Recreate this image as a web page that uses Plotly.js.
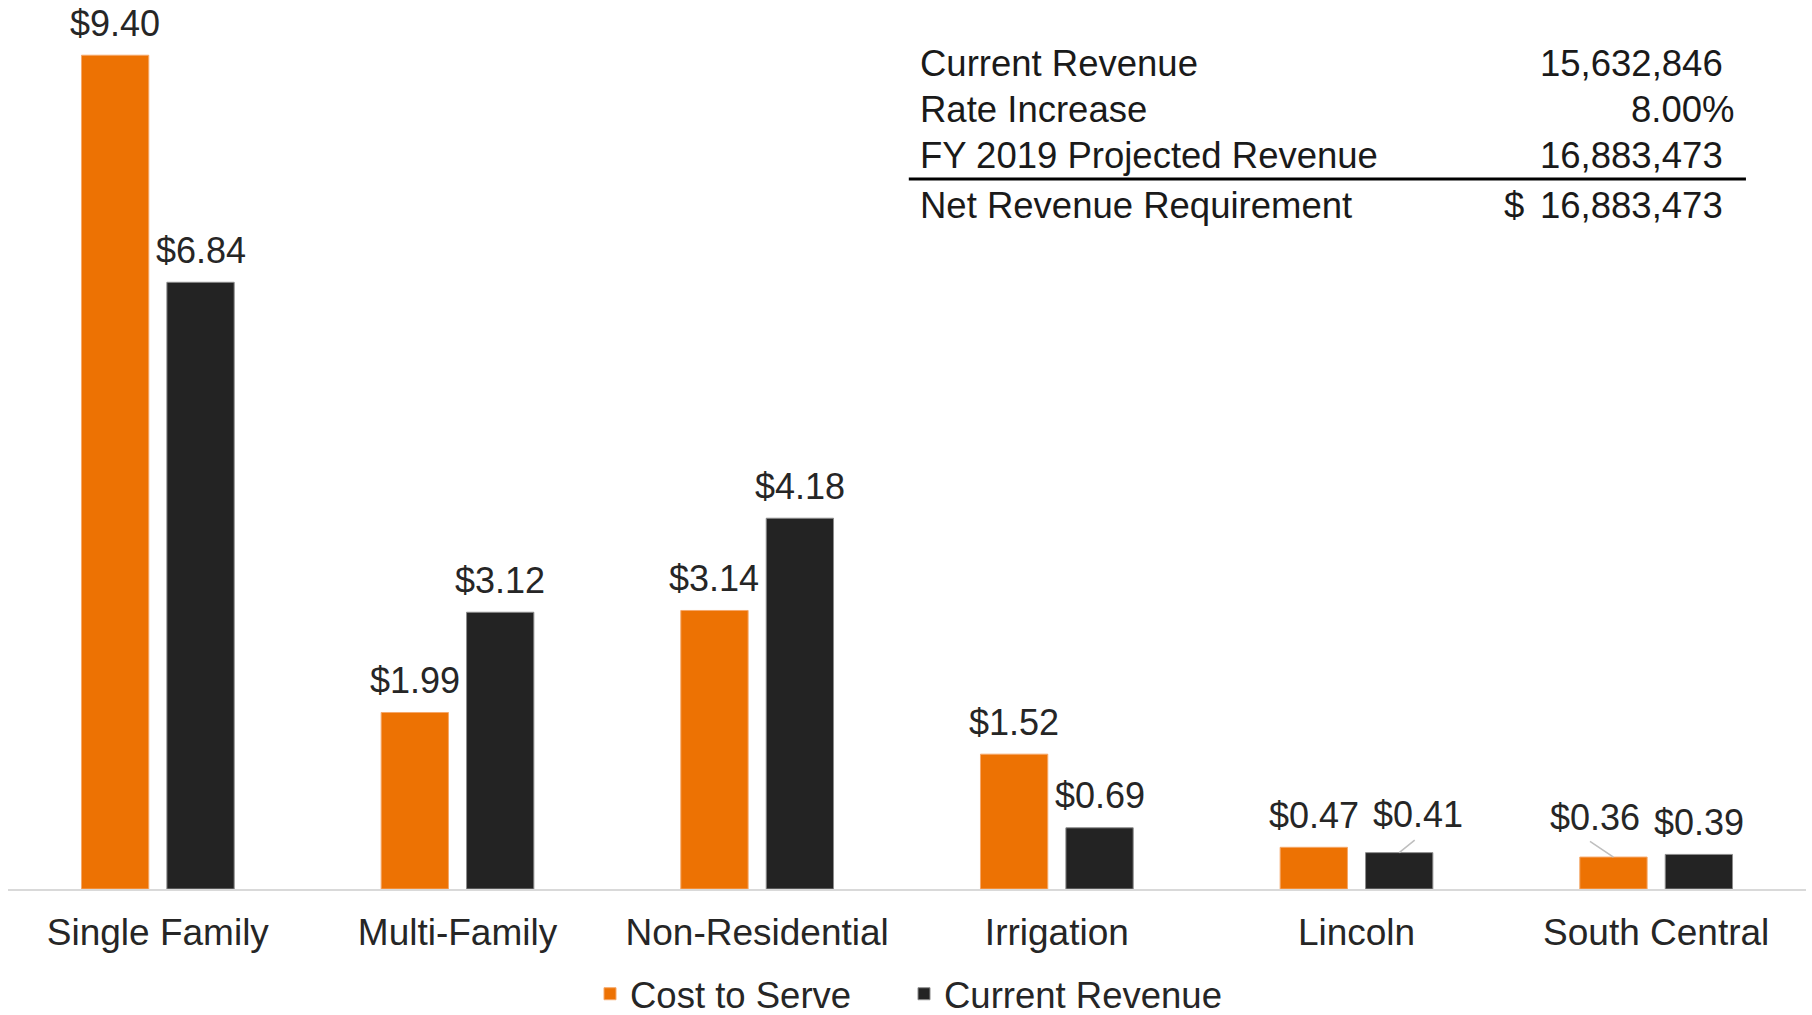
<!DOCTYPE html>
<html>
<head>
<meta charset="utf-8">
<script src="https://cdn.plot.ly/plotly-3.0.1.min.js"></script>
<style>
  html, body { margin: 0; padding: 0; background: #ffffff; }
  #chart { width: 1812px; height: 1015px; }
</style>
</head>
<body>
<div id="chart"></div>
<script>
// ---- Data ----
const categories = ["Single Family", "Multi-Family", "Non-Residential", "Irrigation", "Lincoln", "South Central"];
const costToServe = [9.40, 1.99, 3.14, 1.52, 0.47, 0.36];
const currentRevenue = [6.84, 3.12, 4.18, 0.69, 0.41, 0.39];
const seriesNames = ["Cost to Serve", "Current Revenue"];

const tableLabels = ["Current Revenue", "Rate Increase", "FY 2019 Projected Revenue", "Net Revenue Requirement"];
const tableValues = ["15,632,846", "8.00%", "16,883,473", "16,883,473"];

// ---- Styling ----
const ORANGE = "#ED7203";
const DARK = "#232323";
const TEXT = "#262626";
const FONT = "Liberation Sans, Arial, sans-serif";
const FS = 36;

const traces = [
  {
    type: "bar", name: seriesNames[0], x: categories, y: costToServe,
    marker: { color: ORANGE, line: { color: "#f6a86a", width: 1 } },
    hoverinfo: "skip", legend: "legend"
  },
  {
    type: "bar", name: seriesNames[1], x: categories, y: currentRevenue,
    marker: { color: DARK, line: { color: "#8c8c8c", width: 1 } },
    hoverinfo: "skip", legend: "legend2"
  }
];

// bar offsets within a category (in category units) derived from gaps
const BARGAP = 0.43, GROUPGAP = 0.212;
const slot = (1 - BARGAP) / 2;
const offs = [-slot / 2, slot / 2];

// labels moved away from their bars: [label dx, label dy, leader end dx, leader end dy] in px
const moved = { "1-4": [19, -38, 16, -13], "0-5": [-18, -40, -24, -16] };

const annotations = [];
[costToServe, currentRevenue].forEach((vals, s) => {
  vals.forEach((v, i) => {
    const key = s + "-" + i;
    const txt = "$" + v.toFixed(2);
    if (moved[key]) {
      const m = moved[key];
      annotations.push({
        x: i + offs[s], y: v, xref: "x", yref: "y",
        text: txt, showarrow: false, xshift: m[0], yshift: -m[1],
        font: { family: FONT, size: FS, color: TEXT }
      });
      // leader line
      annotations.push({
        x: i + offs[s], y: v, xref: "x", yref: "y",
        text: " ", showarrow: true, arrowhead: 0, arrowwidth: 1.6,
        arrowcolor: "#bfbfbf", ax: m[2], ay: m[3], standoff: 0, startstandoff: 0,
        font: { size: 1 }, borderpad: 0
      });
    } else {
      annotations.push({
        x: i + offs[s], y: v, xref: "x", yref: "y",
        text: txt, showarrow: false, yanchor: "middle", yshift: 32,
        font: { family: FONT, size: FS, color: TEXT }
      });
    }
  });
});

// summary table
const TFS = 36.5;
const rowY = [0.9306, 0.8785, 0.8264, 0.7704];
const valRight = [0.955, 0.9616, 0.955, 0.955];
tableLabels.forEach((t, r) => {
  annotations.push({
    xref: "paper", yref: "paper", x: 0.506, y: rowY[r], xanchor: "left", yanchor: "middle",
    text: t, showarrow: false, font: { family: FONT, size: TFS, color: "#1a1a1a" }
  });
  annotations.push({
    xref: "paper", yref: "paper", x: valRight[r], y: rowY[r], xanchor: "right", yanchor: "middle",
    text: tableValues[r], showarrow: false, font: { family: FONT, size: TFS, color: "#1a1a1a" }
  });
});
annotations.push({
  xref: "paper", yref: "paper", x: 0.831, y: rowY[3], xanchor: "left", yanchor: "middle",
  text: "$", showarrow: false, font: { family: FONT, size: TFS, color: "#1a1a1a" }
});

const legendBase = {
  orientation: "h", xref: "container", yref: "container",
  xanchor: "left", y: 21 / 1015, yanchor: "middle",
  font: { family: FONT, size: 36.5, color: TEXT }, itemclick: false
};

const layout = {
  width: 1812, height: 1015,
  margin: { l: 8, r: 6, t: 2, b: 126, autoexpand: false },
  paper_bgcolor: "#ffffff", plot_bgcolor: "#ffffff",
  barmode: "group", bargap: BARGAP, bargroupgap: GROUPGAP,
  font: { family: FONT, size: FS, color: TEXT },
  showlegend: true,
  legend: Object.assign({}, legendBase, { x: 590 / 1812 }),
  legend2: Object.assign({}, legendBase, { x: 904 / 1812 }),
  xaxis: {
    type: "category", showline: true, linecolor: "#d9d9d9", linewidth: 2,
    ticks: "", showgrid: false, zeroline: false, automargin: false,
    ticklabelstandoff: 10,
    tickfont: { family: FONT, size: 37, color: TEXT }, fixedrange: true
  },
  yaxis: {
    range: [0, 10], visible: false, showgrid: false, zeroline: false, fixedrange: true,
    automargin: false
  },
  annotations: annotations,
  shapes: [{
    type: "line", xref: "paper", yref: "paper", x0: 0.501, x1: 0.9666, y0: 0.8005, y1: 0.8005,
    line: { color: "#000000", width: 3 }
  }]
};

Plotly.newPlot("chart", traces, layout, { displayModeBar: false, staticPlot: true });
</script>
</body>
</html>
